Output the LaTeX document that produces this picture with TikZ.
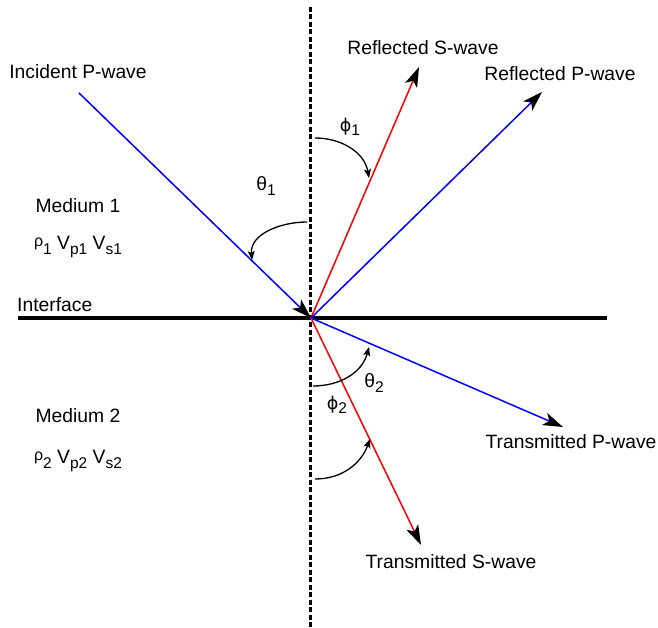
\documentclass[tikz,border=0pt]{standalone}
\usepackage{fontspec}
\setmainfont{Liberation Sans}
\newfontfamily\greekfont{DejaVu Sans}
\usepackage{tikz}
\usetikzlibrary{arrows.meta,positioning,calc}
\newcommand{\lowsub}[1]{\raisebox{-0.45ex}{\fontsize{15.5}{16}\selectfont #1}}

\begin{document}
\begin{tikzpicture}[
  x=1pt,y=-1pt,
  font=\fontsize{19.3}{23}\selectfont,
  lbl/.style={inner sep=0pt,anchor=center},
  ray/.style={line width=1.5pt,-{Stealth[length=20pt,width=13pt,inset=5pt,color=black]}},
  angarrow/.style={line width=1.3pt,-{Stealth[length=9pt,width=7pt,inset=2pt]}}
]
\useasboundingbox (0,0) rectangle (658,628);
% interface and normal
\coordinate (hit) at (311,318);
\coordinate (ifaceL) at (18,318);
\coordinate (ifaceR) at (607,318);
\coordinate (normT) at (310,7);
\coordinate (normB) at (310,628);
\draw[line width=3pt,dash pattern=on 5pt off 2.5pt] (normT) -- (normB);
\draw[line width=4pt] (ifaceL) -- (ifaceR);
% rays
\coordinate (incStart) at (79,93);
\coordinate (rsEnd) at (419,67);
\coordinate (rpEnd) at (542,92);
\coordinate (tpEnd) at (563,427);
\coordinate (tsEnd) at (421,545);
\draw[ray,blue] (incStart) -- (hit);
\draw[ray,red] (hit) -- (rsEnd);
\draw[ray,blue] (hit) -- (rpEnd);
\draw[ray,blue] (hit) -- (tpEnd);
\draw[ray,red] (hit) -- (tsEnd);
% angle arcs
\coordinate (thA) at (307,222);
\coordinate (thB) at (252,260);
\coordinate (phA) at (315,138);
\coordinate (phB) at (369,178);
\coordinate (thC) at (313,386);
\coordinate (thD) at (369,347);
\coordinate (phC) at (315,479);
\coordinate (phD) at (370,439);
\draw[angarrow] (thA) to[out=180,in=95] (thB);
\draw[angarrow] (phA) to[out=0,in=100] (phB);
\draw[angarrow] (thC) to[out=0,in=-105] (thD);
\draw[angarrow] (phC) to[out=0,in=-110] (phD);
% labels
\node[lbl] (incident) at (78,72) {Incident P-wave};
\node[lbl] (reflS) at (423,48) {Reflected S-wave};
\node[lbl] (reflP) at (560,74) {Reflected P-wave};
\node[lbl] (transP) at (571,442) {Transmitted P-wave};
\node[lbl] (transS) at (451,562) {Transmitted S-wave};
\node[lbl,anchor=west] (iface) at (17,305) {Interface};
\node[lbl] (med1) at (78,206) {Medium 1};
\node[lbl] (prop1) at (78,247) {\raisebox{0.3ex}{\fontsize{16}{16}\selectfont ρ}\lowsub{1} V\lowsub{p1} V\lowsub{s1}};
\node[lbl] (med2) at (78,416) {Medium 2};
\node[lbl] (prop2) at (78,461) {\raisebox{0.3ex}{\fontsize{16}{16}\selectfont ρ}\lowsub{2} V\lowsub{p2} V\lowsub{s2}};
\node[lbl] (theta1) at (266,186) {θ\lowsub{1}};
\node[lbl] (phi1) at (350,127) {{\greekfont\fontsize{17.5}{20}\selectfont ϕ}\lowsub{1}};
\node[lbl] (theta2) at (374,383) {θ\lowsub{2}};
\node[lbl] (phi2) at (337,405) {{\greekfont\fontsize{17.5}{20}\selectfont ϕ}\lowsub{2}};
\end{tikzpicture}
\end{document}
